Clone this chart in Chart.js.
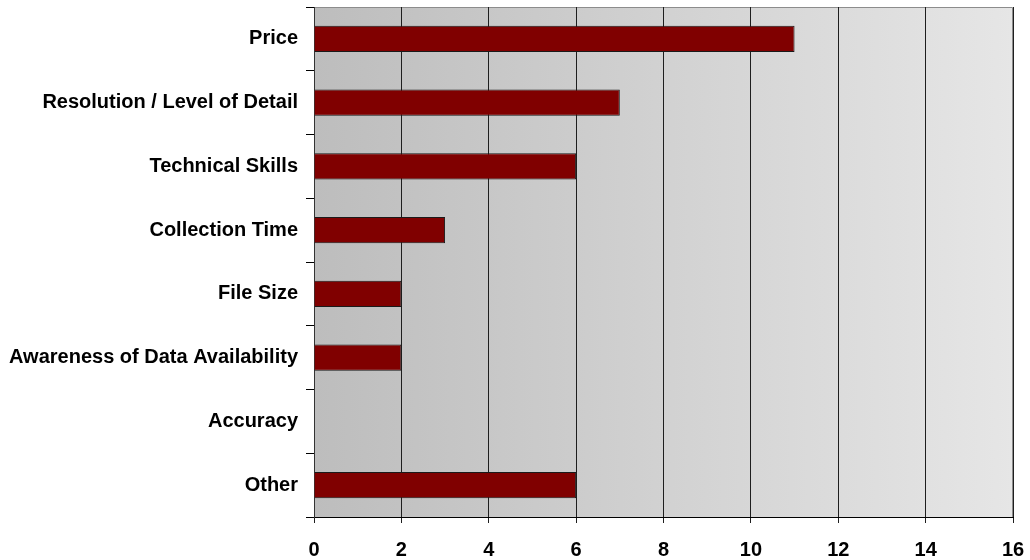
<!DOCTYPE html>
<html>
<head>
<meta charset="utf-8">
<script src="https://cdn.jsdelivr.net/npm/chart.js@4/dist/chart.umd.min.js"></script>
<style>
  html, body { margin: 0; padding: 0; background: #fff; }
  #wrap { width: 1030px; height: 560px; position: relative; }
</style>
</head>
<body>
<div id="wrap"><canvas id="chart"></canvas></div>
<script>
const categories = ['Price', 'Resolution / Level of Detail', 'Technical Skills', 'Collection Time',
    'File Size', 'Awareness of Data Availability', 'Accuracy', 'Other'];
const counts = [11, 7, 6, 3, 2, 2, 0, 6];
const xTicks = [0, 2, 4, 6, 8, 10, 12, 14, 16];

// gray gradient behind the bars, darker on the left
const plotBackground = {
    id: 'plotBackground',
    beforeDraw(chart) {
        const { ctx, chartArea: a } = chart;
        const grad = ctx.createLinearGradient(a.left, 0, a.right, 0);
        grad.addColorStop(0, '#bdbdbd');
        grad.addColorStop(1, '#e6e6e6');
        ctx.save();
        ctx.fillStyle = grad;
        ctx.fillRect(a.left, a.top, a.right - a.left, a.bottom - a.top);
        ctx.strokeStyle = '#8c8c8c';
        ctx.lineWidth = 1;
        ctx.beginPath();
        ctx.moveTo(a.left, a.top + 0.5);
        ctx.lineTo(a.right - 0.5, a.top + 0.5);
        ctx.lineTo(a.right - 0.5, a.bottom);
        ctx.stroke();
        ctx.restore();
    }
};

const labelFont = { family: 'Liberation Sans, Arial', size: 20, weight: 'bold', lineHeight: 1 };

const ctx = document.getElementById('chart').getContext('2d');
new Chart(ctx, {
    type: 'bar',
    data: {
        labels: categories,
        datasets: [{
            data: counts,
            backgroundColor: '#800000',
            borderColor: '#1a1a1a',
            borderWidth: 1,
            barPercentage: 0.41,
            categoryPercentage: 1
        }]
    },
    options: {
        indexAxis: 'y',
        responsive: true,
        maintainAspectRatio: false,
        animation: false,
        layout: { padding: { top: 7, right: 17, left: 1, bottom: 0 } },
        plugins: { legend: { display: false }, tooltip: { enabled: false } },
        scales: {
            x: {
                min: 0,
                max: 16,
                afterBuildTicks: axis => { axis.ticks = xTicks.map(v => ({ value: v })); },
                afterFit: axis => { axis.height = 43; axis.paddingLeft = 0; axis.paddingRight = 0; },
                ticks: { color: '#000', font: labelFont, padding: 17 },
                grid: { color: '#1e1e1e', lineWidth: 1, tickLength: 6 },
                border: { color: '#000', width: 1 }
            },
            y: {
                afterFit: axis => { axis.paddingTop = 0; axis.paddingBottom = 0; },
                ticks: { color: '#000', font: labelFont, padding: 8 },
                grid: { offset: true, drawOnChartArea: false, color: '#000', tickLength: 8 },
                border: { color: '#333', width: 1 }
            }
        }
    },
    plugins: [plotBackground]
});
</script>
</body>
</html>
